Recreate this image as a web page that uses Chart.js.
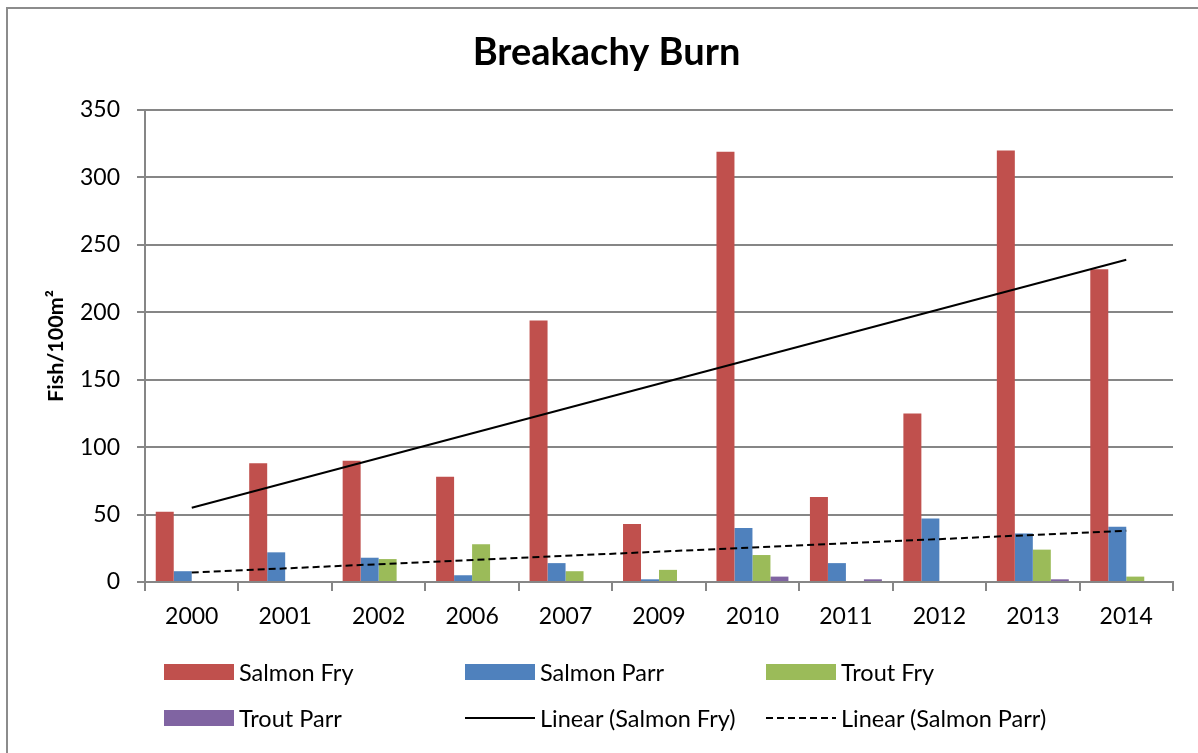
<!DOCTYPE html>
<html>
<head>
<meta charset="utf-8">
<title>Breakachy Burn</title>
<script src="https://cdn.jsdelivr.net/npm/chart.js@4/dist/chart.umd.min.js"></script>
<style>
    html, body { margin: 0; padding: 0; background: #fff; }
    #wrap { position: relative; width: 1198px; height: 753px; overflow: hidden; }
    #frame {
        position: absolute; left: 6px; top: 7px; width: 1200px; height: 760px;
        border: 2px solid #8c8c8c; box-sizing: border-box;
    }
    #chart { position: absolute; left: 0; top: 0; }
    #legend {
        position: absolute; left: 164px; top: 649px;
        display: grid; grid-template-columns: 301px 301px 301px; grid-auto-rows: 46px;
        font-family: Lato, "Open Sans", sans-serif; font-size: 23.5px; color: #000;
    }
    .item { display: flex; align-items: center; }
    .swatch { width: 70px; height: 16px; margin-right: 5px; flex: none; }
    .line { height: 2px; background: #000; }
    .dashed { height: 2px; background: repeating-linear-gradient(to right, #000 0 7px, transparent 7px 11px); }
</style>
</head>
<body>
<div id="wrap">
    <div id="frame"></div>
    <canvas id="chart" width="1198" height="753"></canvas>
    <div id="legend"></div>
</div>
<script>
// --- Data ---
const years = ['2000', '2001', '2002', '2006', '2007', '2009', '2010', '2011', '2012', '2013', '2014'];
const salmonFry  = [52, 88, 90, 78, 194, 43, 319, 63, 125, 320, 232];
const salmonParr = [8, 22, 18, 5, 14, 2, 40, 14, 47, 36, 41];
const troutFry   = [0, 0, 17, 28, 8, 9, 20, 0, 0, 24, 4];
const troutParr  = [0, 0, 0, 0, 0, 0, 4, 2, 0, 2, 0];
// trend line values at first and last year, as drawn
const fryTrend  = [55, 239];
const parrTrend = [7, 38];
const yTicks = [0, 50, 100, 150, 200, 250, 300, 350];

const FONT = 'Lato, "Open Sans", sans-serif';
const GRID = '#868686';

function trendData(ends) {
    const d = years.map(() => null);
    d[0] = ends[0];
    d[d.length - 1] = ends[1];
    return d;
}

function barSet(label, data, color) {
    return {
        type: 'bar', label: label, data: data, backgroundColor: color,
        categoryPercentage: 0.77, barPercentage: 1.0, order: 2
    };
}

const chart = new Chart(document.getElementById('chart'), {
    type: 'bar',
    data: {
        labels: years,
        datasets: [
            barSet('Salmon Fry', salmonFry, '#C0504D'),
            barSet('Salmon Parr', salmonParr, '#4F81BD'),
            barSet('Trout Fry', troutFry, '#9BBB59'),
            barSet('Trout Parr', troutParr, '#8064A2'),
            {
                type: 'line', label: 'Linear (Salmon Fry)', data: trendData(fryTrend),
                borderColor: '#000', borderWidth: 2, pointRadius: 0, spanGaps: true, order: 0
            },
            {
                type: 'line', label: 'Linear (Salmon Parr)', data: trendData(parrTrend),
                borderColor: '#000', borderWidth: 2, borderDash: [7, 4], pointRadius: 0, spanGaps: true, order: 0
            }
        ]
    },
    options: {
        responsive: false,
        animation: false,
        // left padding keeps the title centred on the frame, as in Excel
        layout: { padding: { left: 40, right: 25, top: 0, bottom: 0 } },
        plugins: {
            legend: { display: false },
            tooltip: { enabled: false },
            title: {
                display: true, text: 'Breakachy Burn', color: '#000',
                font: { family: FONT, size: 38, weight: 'bold' },
                padding: { top: 30, bottom: 34.4 }
            }
        },
        scales: {
            x: {
                grid: { drawOnChartArea: false, drawTicks: true, tickLength: 9, color: GRID, lineWidth: 2 },
                border: { color: GRID, width: 2 },
                ticks: { color: '#000', font: { family: FONT, size: 23 }, padding: 12 },
                afterFit: s => { s.height = 171; }
            },
            y: {
                min: 0, max: 350,
                afterBuildTicks: s => { s.ticks = yTicks.map(v => ({ value: v })); },
                grid: { color: GRID, lineWidth: 2, tickLength: 8 },
                border: { color: GRID, width: 2 },
                ticks: { color: '#000', font: { family: FONT, size: 23 }, padding: 17 },
                title: {
                    display: true, text: 'Fish/100m²', color: '#000',
                    font: { family: FONT, size: 21.5, weight: 'bold' },
                    padding: { top: 3, bottom: 0 }
                },
                afterFit: s => { s.width = 105; }
            }
        }
    }
});

// HTML legend, three columns like the original
const legend = document.getElementById('legend');
chart.data.datasets.forEach(ds => {
    const item = document.createElement('div');
    item.className = 'item';
    const sw = document.createElement('span');
    if (ds.type === 'line') {
        sw.className = 'swatch ' + (ds.borderDash ? 'dashed' : 'line');
    } else {
        sw.className = 'swatch';
        sw.style.background = ds.backgroundColor;
    }
    const txt = document.createElement('span');
    txt.textContent = ds.label;
    item.appendChild(sw);
    item.appendChild(txt);
    legend.appendChild(item);
});
</script>
</body>
</html>
